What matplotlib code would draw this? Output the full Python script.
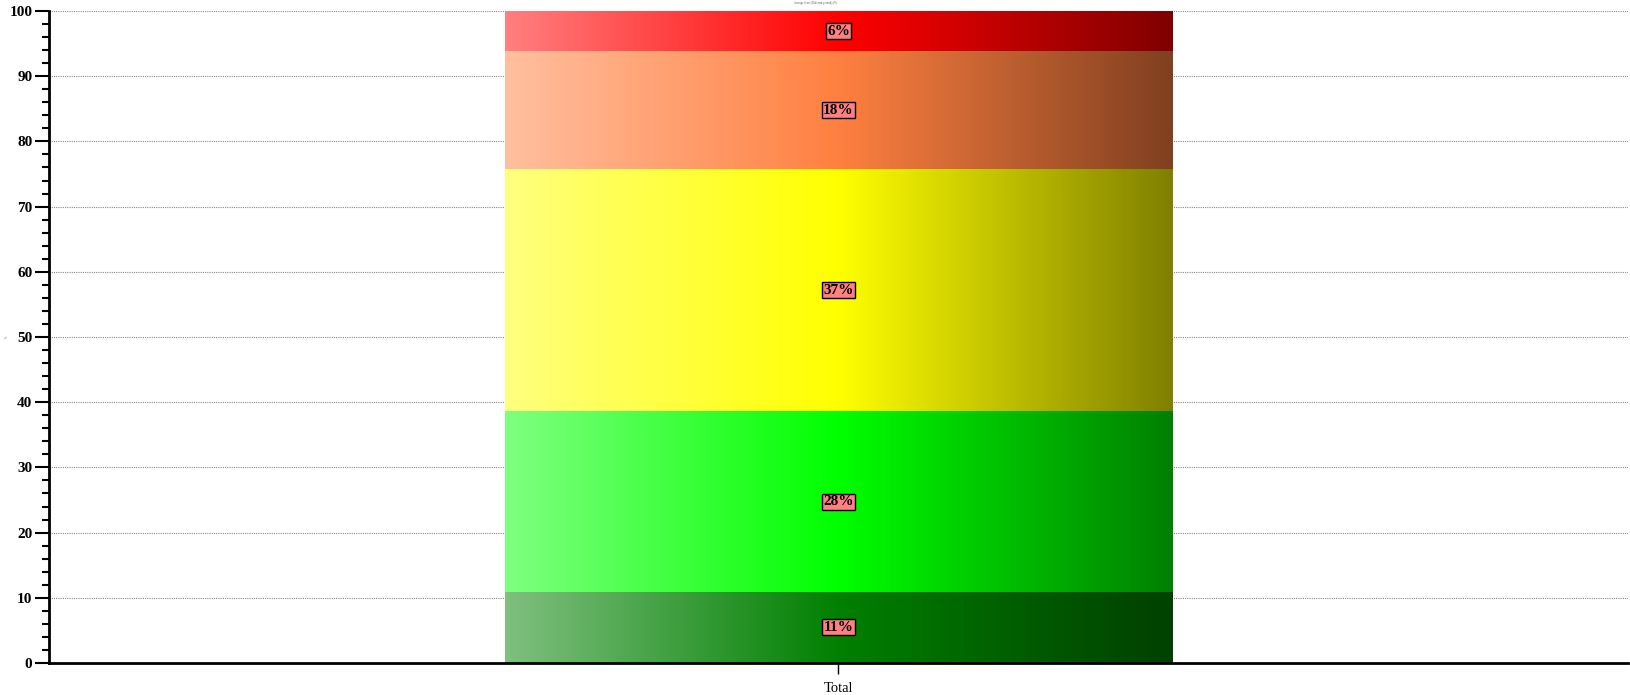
import numpy as np
import matplotlib
matplotlib.use("Agg")
import matplotlib.pyplot as plt
from matplotlib.colors import to_rgb
from matplotlib.ticker import MultipleLocator

# data
categories = ["Total"]
segment_values = [10.9, 27.7, 37.2, 18.0, 6.2]
segment_labels = ["11%", "28%", "37%", "18%", "6%"]
segment_colors = ["#008000", "#00ff00", "#ffff00", "#ff8040", "#ff0000"]

plt.rcParams["font.family"] = ["Liberation Serif", "DejaVu Serif"]

fig = plt.figure(figsize=(16.31, 6.95), dpi=100)
ax = fig.add_axes([49 / 1631, 1 - 663 / 695, 1579 / 1631, 652 / 695])


def gradient_image(color, n=256):
    c = np.array(to_rgb(color))
    white = np.ones(3)
    left = (c + white) / 2
    right = c * 0.5
    t = np.linspace(0, 1, n)
    img = np.zeros((1, n, 3))
    for i, v in enumerate(t):
        if v < 0.5:
            img[0, i] = left + (c - left) * (v / 0.5)
        else:
            img[0, i] = c + (right - c) * ((v - 0.5) / 0.5)
    return img


x = np.arange(len(categories))
bottom = np.zeros(len(categories))
for val, lab, col in zip(segment_values, segment_labels, segment_colors):
    bars = ax.bar(x, [val], 0.845, bottom=bottom, color="none", edgecolor="none", zorder=2)
    for b in bars:
        x0, y0, w, h = b.get_x(), b.get_y(), b.get_width(), b.get_height()
        ax.imshow(gradient_image(col), extent=[x0, x0 + w, y0, y0 + h],
                  aspect="auto", interpolation="bilinear", zorder=2)
        ax.text(x0 + w / 2, y0 + h / 2, lab, ha="center", va="center",
                fontsize=11, fontweight="bold", color="black", zorder=4,
                bbox=dict(boxstyle="square,pad=0.1", facecolor="#ff8080",
                          edgecolor="black", linewidth=1))
    bottom += np.array([val])

ax.set_xlim(-1, 1)
ax.set_ylim(0, 100)
ax.set_xticks(x)
ax.set_xticklabels(categories, fontsize=10.5)
ax.yaxis.set_major_locator(MultipleLocator(10))
ax.yaxis.set_minor_locator(MultipleLocator(2))
for t in ax.get_yticklabels():
    t.set_fontweight("bold")
    t.set_fontsize(11)

ax.grid(axis="y", which="major", linestyle=(0, (1, 1)), color="#888888", linewidth=0.8, zorder=0)
ax.set_axisbelow(True)
ax.spines["top"].set_visible(False)
ax.spines["right"].set_visible(False)
ax.spines["left"].set_linewidth(2)
ax.spines["bottom"].set_linewidth(2)
ax.tick_params(axis="y", which="major", length=10, width=1.5, pad=2)
ax.tick_params(axis="y", which="minor", length=5, width=1.5)
ax.tick_params(axis="x", length=8, width=1, pad=6)

ax.set_ylabel("%", fontsize=2, color="#555555")
ax.yaxis.set_label_coords(-40 / 1579, 0.5)
fig.text(0.5, 0.999, "Average Score (Different periods) (%)", ha="center", va="top", fontsize=2, color="#555555")

fig.savefig("out.png", dpi=100)
